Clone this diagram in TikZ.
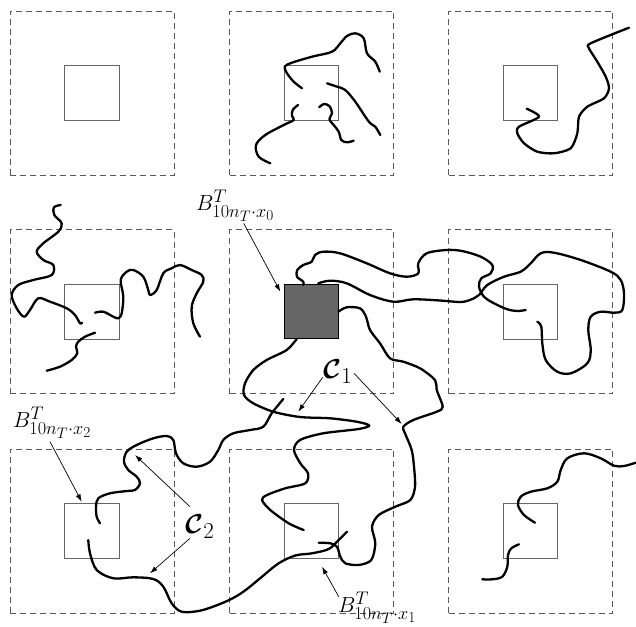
\documentclass[tikz,border=0pt]{standalone}
\usepackage{amsmath}
\usetikzlibrary{arrows.meta}
\begin{document}
\begin{tikzpicture}[x=1pt,y=-1pt,
  outerbox/.style={draw=black!65, dash pattern=on 6pt off 4pt, line width=0.8pt, minimum size=164pt, inner sep=0pt, outer sep=0pt},
  innerbox/.style={draw=black!60, line width=0.9pt, minimum size=54.5pt, inner sep=0pt, outer sep=0pt},
  target/.style={innerbox, fill=black!60, draw=black, line width=1pt},
  walk/.style={line width=2.3pt, line cap=round, line join=round},
  pointer/.style={line width=0.7pt, -{Latex[length=7.5pt,width=5pt]}},
  lab/.style={inner sep=0pt, font=\Huge, scale=0.88},
  clab/.style={inner sep=0pt, font=\Huge, scale=1.1}]
\useasboundingbox (0,0) rectangle (636,626);
% grid of boxes
\foreach \c/\x in {1/92,2/311.5,3/530.5}{
  \foreach \r/\y in {1/93,2/311.7,3/531}{
    \node[outerbox] (o\r\c) at (\x,\y) {};
  }}
\foreach \c/\x in {1/92,2/311.5,3/530.5}{
  \foreach \r/\y in {1/93,3/531}{
    \node[innerbox] (i\r\c) at (\x,\y) {};
  }}
\node[innerbox] (i21) at (92,311.7) {};
\node[innerbox] (i23) at (530.5,311.7) {};
\node[target] (i22) at (311.5,311.7) {};

% cell (1,2)
\draw[walk] plot[smooth,tension=0.55] coordinates {(302,88.3) (293.7,81.7) (287,73.3) (284.7,66.7) (292,62.7) (312,56.7) (332,51.7) (340.3,43.3) (347,36) (355.3,33.3) (363.7,38.3) (367,53.3) (375.3,61.7) (379.7,71.7)};
\draw[walk] plot[smooth,tension=0.55] coordinates {(327,83.3) (337,86.7) (345.3,90) (355.3,101.7) (365.3,116.7) (370.3,123.3) (375.3,126.7) (380.3,135)};
\draw[walk] plot[smooth,tension=0.55] coordinates {(298,105) (292.7,110) (292,116) (293.7,120) (283.7,125) (265.3,135) (256,145) (258.7,156.7) (270.3,163.3)};
\draw[walk] plot[smooth,tension=0.55] coordinates {(319.3,107.3) (323.7,104) (329.3,106) (332,113.3) (329.3,119.3) (333.7,125) (338.7,131.7) (341.3,140) (347,142.3) (353.7,140.7)};
% cell (1,3)
\draw[walk] plot[smooth,tension=0.45] coordinates {(526.7,108.7) (539,116.7) (519,126.7) (517.3,133.3) (524,143.3) (537.3,151.7) (554,153.3) (570.7,148.3) (577.3,133.3) (579,116.7) (587.3,106.7) (604,98.3) (609,88.3) (605.7,76.7) (597.3,61.7) (589,48.3) (590.7,43.3) (629,27.7)};
% cell (2,1)
\draw[walk] plot[smooth,tension=0.55] coordinates {(60.7,205) (54,207.3) (54.3,215) (61.7,223.3) (58.3,231.7) (43.3,243.3) (36.7,251.7) (43.3,260) (53.3,265) (51.7,275) (33.3,280) (18.3,285) (11.7,295) (16.7,308.3) (24,316.7) (30,310) (38.3,298.3) (50,301.7) (66.7,308.3) (75,315) (80,323.3) (82,322.7)};
\draw[walk] plot[smooth,tension=0.55] coordinates {(95,312.7) (103.3,311.7) (113.3,316.7) (118.3,318.3) (121.7,313.3) (123.3,296.7) (120.7,280) (126.7,271.7) (133.3,270) (143.3,276.7) (148.3,290) (150,295) (156.7,290) (163.3,273.3) (171.7,268.3) (180,265) (191.7,270) (201.7,275) (203.3,281.7) (196.7,293.3) (191.7,306.7) (193.3,323.3) (200,336.7)};
\draw[walk] plot[smooth,tension=0.55] coordinates {(95,332.7) (85,336.7) (78.3,341.7) (76,346.7) (77.3,353.3) (71.7,360) (60,366.7) (46.7,370.7)};
% centre: upper loop
\draw[walk] plot[smooth,tension=0.55] coordinates {(303.3,285) (303.3,281.7) (297,276.7) (297.3,270) (303.3,265) (311.7,261.7) (315,255) (323.3,251.7) (340,253.3) (366.7,263.3) (390,273.3) (406.7,276.7) (418.3,273.3) (418.3,263.3) (426.7,253.3) (446.7,250) (462,251) (480.7,256.7) (492.3,265) (490.7,273.3) (481.3,278.3) (479,286.7) (484,296.7) (494,303.3) (507.3,309.3) (517.3,311) (525.7,310)};
% centre: lower loop
\draw[walk] plot[smooth,tension=0.55] coordinates {(318.3,283.3) (330,280.7) (346.7,283.3) (370,295) (393.3,301.7) (413.3,299.3) (440,300.5) (460,302) (470,300) (479,295) (487.3,285) (504,276.7) (520.7,271.7) (530.7,263.3) (540.7,253.3) (554,252.7) (580.7,260) (610.7,271.7) (620.7,280) (624,293.3) (622.3,310) (614,312.7) (600.7,311.7) (590.7,316.7) (588.3,330) (590.7,350) (587.3,363.3) (570.7,373.3) (557.3,371.7) (545.7,360) (542.3,343.3) (541.3,326.7) (537.3,321.7)};
% centre: right branch
\draw[walk] plot[smooth,tension=0.5] coordinates {(338.3,311.7) (346.7,307.3) (360,308.3) (366,316.7) (370,330) (380,343.3) (390,358.3) (403.3,361.7) (420,368.3) (435,380) (436.7,390) (442.7,406.7) (436.7,411.7) (413.3,420) (403.3,426.7) (405,433.3) (411.7,450) (414,466.7) (415,486.7) (410.3,500) (395.3,506.7) (378.7,515) (372,526.7) (375.3,543.3) (371.3,560) (358.7,565) (345.3,563.3) (340.3,556.7) (337,546.7) (330.3,543.3) (318.7,542.7)};
% centre: bottom branch
\draw[walk] plot[smooth,tension=0.5] coordinates {(296.7,339) (286.7,350) (266.7,360) (253.3,370) (245,383.3) (244,395) (253.3,403.3) (273.3,411.7) (300,417) (330,418.3) (356.7,421.7) (369.3,425.5) (358.7,429) (323.3,433.3) (300,440) (294,450) (300.3,463.3) (308,473.3) (305.3,483.3) (285.3,488.3) (267,495) (262,500) (270.3,510) (288.7,523.3) (303.7,530)};
% C2 upper
\draw[walk] plot[smooth,tension=0.55] coordinates {(100,523.3) (96.7,516.7) (96,506.7) (98.3,498.3) (110,493.3) (127,491) (135,490) (140,483.3) (136.7,476.7) (128.3,470) (124,461.7) (126.7,451.7) (136.7,445) (153.3,438.3) (166.7,436) (173.3,440) (176,453.3) (183.3,463.3) (196.7,466.7) (210,461.7) (218.3,450) (223.3,440) (233.3,433.3) (250,430) (263.3,426.7) (271.7,413.3) (283.3,399)};
% C2 lower
\draw[walk] plot[smooth,tension=0.55] coordinates {(88.3,540) (90,553.3) (96.7,570) (113.3,578.3) (133.3,577.3) (153.3,579) (163.3,586.7) (171.7,603.3) (181.7,611.7) (200,610.7) (220,604) (235,597) (247,589) (262,576.7) (278.7,563.3) (295.3,555.5) (312,553.3) (328.7,549) (338.7,540) (347,531.7)};
% cell (3,3)
\draw[walk] plot[smooth,tension=0.55] coordinates {(535,522.7) (524,515) (518,505) (520.7,496.7) (530.7,491.7) (547.3,488.3) (557.3,481.7) (560.7,470) (567.3,458.3) (584,453.3) (600.7,458.3) (614,465.7) (624,466) (635.7,462.7)};
\draw[walk] plot[smooth,tension=0.55] coordinates {(519,544.3) (511.3,548.3) (508,555) (507.3,566.7) (502.3,576.7) (492.3,579.3) (482.3,579.3)};

% labels
\node[lab, anchor=base west] (bx0) at (196,210) {$B^{T}_{10n_T\cdot x_0}$};
\node[lab, anchor=base west] (bx2) at (13,427) {$B^{T}_{10n_T\cdot x_2}$};
\node[lab, anchor=base west] (bx1) at (338,612) {$B^{T}_{10n_T\cdot x_1}$};
\node[clab, anchor=base west] (c1) at (323,378) {$\boldsymbol{\mathcal{C}}_1$};
\node[clab, anchor=base west] (c2) at (185,533) {$\boldsymbol{\mathcal{C}}_2$};

\coordinate (s0) at (243.7,223.3); \coordinate (t0) at (280.3,291.7);
\coordinate (s2) at (50,441.7);    \coordinate (t2) at (81.7,501.7);
\coordinate (s1) at (338.7,596.7); \coordinate (t1) at (322,566.7);
\coordinate (sc1a) at (322.7,377.3); \coordinate (tc1a) at (298.3,411.7);
\coordinate (sc1b) at (354,373.3);   \coordinate (tc1b) at (401.7,424);
\coordinate (sc2a) at (190,506.7);   \coordinate (tc2a) at (135,455);
\coordinate (sc2b) at (190,538.3);   \coordinate (tc2b) at (150,573.3);
\draw[pointer] (s0) -- (t0);
\draw[pointer] (s2) -- (t2);
\draw[pointer] (s1) -- (t1);
\draw[pointer] (sc1a) -- (tc1a);
\draw[pointer] (sc1b) -- (tc1b);
\draw[pointer] (sc2a) -- (tc2a);
\draw[pointer] (sc2b) -- (tc2b);
\end{tikzpicture}
\end{document}
